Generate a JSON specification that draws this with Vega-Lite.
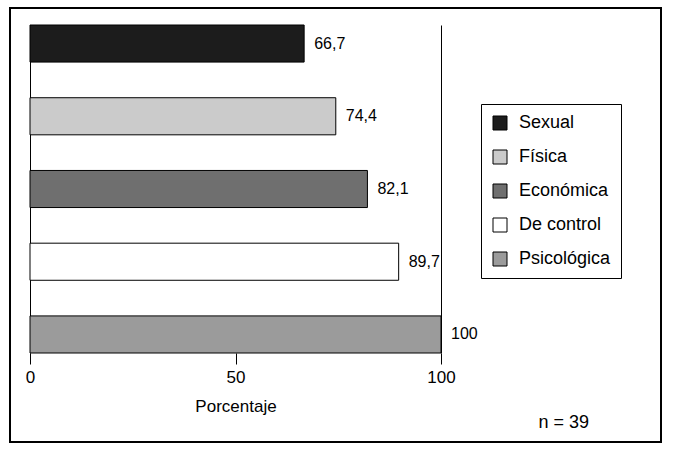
{
  "$schema": "https://vega.github.io/schema/vega-lite/v6.json",
  "width": 651,
  "height": 434,
  "autosize": {"type": "none"},
  "padding": {"left": 10, "top": 8, "right": 13, "bottom": 15},
  "background": "white",
  "title": {
    "text": "n = 39",
    "orient": "bottom",
    "anchor": "end",
    "frame": "group",
    "dx": -72,
    "offset": -28,
    "fontSize": 18,
    "fontWeight": "normal",
    "color": "black",
    "font": "Liberation Sans"
  },
  "data": {
    "values": [
      {"tipo": "Sexual", "pct": 66.7, "label": "66,7"},
      {"tipo": "Física", "pct": 74.4, "label": "74,4"},
      {"tipo": "Económica", "pct": 82.1, "label": "82,1"},
      {"tipo": "De control", "pct": 89.7, "label": "89,7"},
      {"tipo": "Psicológica", "pct": 100, "label": "100"}
    ]
  },
  "encoding": {
    "x": {
      "field": "pct",
      "type": "quantitative",
      "scale": {"domain": [0, 100], "range": [20, 431]},
      "axis": {
        "title": "Porcentaje",
        "values": [0, 50, 100],
        "domain": false,
        "offset": -89,
        "tickSize": 11,
        "tickColor": "black",
        "tickWidth": 1,
        "labelPadding": 5,
        "labelFlush": false,
        "titlePadding": 13,
        "grid": false
      }
    }
  },
  "layer": [
    {
      "mark": {"type": "bar", "stroke": "black", "strokeWidth": 1},
      "encoding": {
        "y": {
          "field": "tipo",
          "type": "nominal",
          "sort": ["Sexual", "Física", "Económica", "De control", "Psicológica"],
          "scale": {"range": [17, 345], "paddingInner": 0.49, "paddingOuter": 0},
          "axis": {
            "orient": "left",
            "title": null,
            "labels": false,
            "ticks": false,
            "domain": true,
            "domainColor": "black",
            "domainWidth": 1,
            "offset": -20
          }
        },
        "color": {
          "field": "tipo",
          "type": "nominal",
          "scale": {
            "domain": ["Sexual", "Física", "Económica", "De control", "Psicológica"],
            "range": ["#1c1c1c", "#cbcbcb", "#6f6f6f", "#ffffff", "#9b9b9b"]
          },
          "legend": {
            "title": null,
            "orient": "none",
            "legendX": 471,
            "legendY": 96,
            "strokeColor": "black",
            "fillColor": "white",
            "padding": 10,
            "symbolType": "square",
            "symbolSize": 196,
            "symbolStrokeColor": "black",
            "symbolStrokeWidth": 1,
            "labelFontSize": 18,
            "labelColor": "black",
            "labelOffset": 10,
            "rowPadding": 16
          }
        }
      }
    },
    {
      "mark": {"type": "text", "align": "left", "baseline": "middle", "dx": 10, "fontSize": 16, "color": "black"},
      "encoding": {
        "y": {
          "field": "tipo",
          "type": "nominal",
          "sort": ["Sexual", "Física", "Económica", "De control", "Psicológica"],
          "axis": {
            "orient": "right",
            "title": null,
            "labels": false,
            "ticks": false,
            "domain": true,
            "domainColor": "black",
            "domainWidth": 1,
            "offset": -220
          }
        },
        "text": {"field": "label"}
      }
    }
  ],
  "resolve": {"axis": {"y": "independent"}},
  "config": {
    "font": "Liberation Sans",
    "view": {"stroke": "black", "strokeWidth": 2},
    "axis": {
      "labelFontSize": 17,
      "titleFontSize": 17,
      "titleFontWeight": "normal",
      "labelColor": "black",
      "titleColor": "black"
    },
    "legend": {"labelFont": "Liberation Sans"}
  }
}
